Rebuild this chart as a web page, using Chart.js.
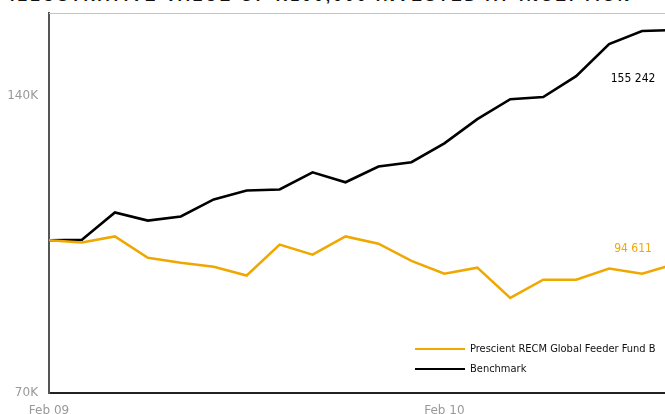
<!DOCTYPE html>
<html>
<head>
<meta charset="utf-8">
<script src="https://cdn.jsdelivr.net/npm/chart.js@4.4.1/dist/chart.umd.min.js"></script>
<style>
  html, body { margin: 0; padding: 0; background: #fff; overflow: hidden; width: 665px; height: 414px; }
  #title {
    position: absolute; left: 10px; top: -13px; white-space: nowrap;
    font: bold 16px "Liberation Sans", Arial, sans-serif; letter-spacing: 2.9px; color: #111;
  }
  #wrap { position: absolute; left: 0; top: 0; width: 677px; height: 432px; }
  #legend {
    position: absolute; left: 415px; top: 339px; white-space: nowrap;
    font: condensed 11px "DejaVu Sans", sans-serif; color: #111;
  }
  #legend div { height: 20px; line-height: 18px; display: flex; align-items: center; }
  #legend span.sw { display: inline-block; width: 50px; height: 2px; margin-right: 5px; }
</style>
</head>
<body>
<div id="title">ILLUSTRATIVE VALUE OF R100,000 INVESTED AT INCEPTION</div>
<div id="wrap"><canvas id="chart"></canvas></div>
<div id="legend"></div>
<script>
  // monthly points, Feb 09 onward
  const months = ['Feb 09','Mar 09','Apr 09','May 09','Jun 09','Jul 09','Aug 09','Sep 09','Oct 09','Nov 09','Dec 09','Jan 10',
                  'Feb 10','Mar 10','Apr 10','May 10','Jun 10','Jul 10','Aug 10','Sep 10']
  const fundValues = [100000, 99500, 100900, 96000, 94900, 94000, 92100, 99000, 96700, 100900, 99200, 95300,
                      92500, 93800, 87400, 91200, 91200, 93600, 92500, 94611]
  const benchValues = [100000, 100100, 106700, 104700, 105700, 110000, 112300, 112600, 117200, 114500, 118800, 120000,
                       125400, 132700, 139000, 139700, 146700, 158100, 163000, 163400]
  const yTicks = [70000, 140000]
  const fundEndLabel = '94 611'
  const benchEndLabel = '155 242'

  const fundColor = '#f0a800'
  const benchColor = '#000000'
  const cond = '"DejaVu Sans", sans-serif'

  // top border + end value labels
  const extras = {
    id: 'extras',
    afterDraw(chart) {
      const ctx = chart.ctx, a = chart.chartArea
      const xs = chart.scales.x, ys = chart.scales.y
      ctx.save()
      ctx.strokeStyle = '#c4c4c4'
      ctx.lineWidth = 1
      ctx.beginPath()
      ctx.moveTo(a.left, a.top + 0.5)
      ctx.lineTo(a.right, a.top + 0.5)
      ctx.stroke()

      ctx.font = 'condensed 12px ' + cond
      ctx.textAlign = 'center'
      ctx.textBaseline = 'middle'
      const xl = xs.getPixelForValue(18) - 9
      ctx.fillStyle = fundColor
      ctx.fillText(fundEndLabel, xl, ys.getPixelForValue(fundValues[18]) - 25)
      ctx.fillStyle = benchColor
      ctx.fillText(benchEndLabel, xl, ys.getPixelForValue(benchValues[18]) + 48)
      ctx.restore()
    }
  }

  const chart = new Chart(document.getElementById('chart'), {
    type: 'line',
    data: {
      labels: months,
      datasets: [
        { label: 'Prescient RECM Global Feeder Fund B', data: fundValues, borderColor: fundColor, borderWidth: 2.5, pointRadius: 0, tension: 0 },
        { label: 'Benchmark', data: benchValues, borderColor: benchColor, borderWidth: 2.6, pointRadius: 0, tension: 0 }
      ]
    },
    options: {
      responsive: true,
      maintainAspectRatio: false,
      animation: false,
      layout: { padding: { top: 13, right: 2, left: 0, bottom: 0 } },
      plugins: { legend: { display: false }, tooltip: { enabled: false } },
      scales: {
        x: {
          offset: false,
          grid: { display: false, drawTicks: false },
          border: { display: true, color: '#222', width: 2 },
          ticks: {
            autoSkip: false, maxRotation: 0, padding: 11, color: '#999',
            font: { family: cond, size: 12, style: 'condensed' },
            callback: (v, i) => (i % 12 === 0 ? months[i] : '')
          },
          afterFit: s => { s.height = 432 - 393; s.paddingLeft = 0; s.paddingRight = 0 }
        },
        y: {
          type: 'logarithmic',
          min: 70000, max: 170000,
          grid: { display: false, drawTicks: false },
          border: { display: true, color: '#555', width: 2 },
          afterBuildTicks: s => { s.ticks = yTicks.map(v => ({ value: v })) },
          ticks: {
            padding: 11, color: '#999',
            font: { family: cond, size: 12, style: 'condensed' },
            callback: v => (v / 1000) + 'K'
          },
          afterFit: s => { s.width = 49; s.paddingTop = 0; s.paddingBottom = 0 }
        }
      }
    },
    plugins: [extras]
  })

  // legend from the datasets
  const leg = document.getElementById('legend')
  chart.data.datasets.forEach(ds => {
    const row = document.createElement('div')
    row.innerHTML = '<span class="sw" style="background:' + ds.borderColor + '"></span>' + ds.label
    leg.appendChild(row)
  })
</script>
</body>
</html>
